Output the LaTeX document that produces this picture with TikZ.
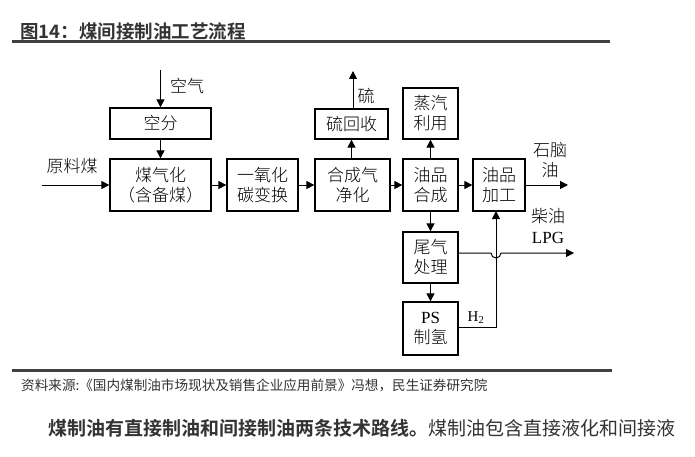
\documentclass[tikz,border=0pt]{standalone}
\usepackage{fontspec}
\setmainfont{Liberation Serif}
\newfontfamily\cjk{Noto Sans CJK SC}
\newfontfamily\cjkl{Noto Sans CJK SC}[UprightFont=* Light]
\newfontfamily\cjkb{Noto Sans CJK SC}[UprightFont=* Bold]
\usetikzlibrary{arrows.meta}
\begin{document}
\begin{tikzpicture}[x=1pt,y=-1pt,
  box/.style={draw,line width=1.3pt,inner sep=0pt,align=center,font=\cjkl\fontsize{17}{20}\selectfont},
  lbl/.style={font=\cjkl\fontsize{17}{20}\selectfont,inner sep=0pt,align=center},
  ar/.style={line width=1pt,-{Triangle[length=8pt,width=8pt]}},
  ln/.style={line width=1pt}]
\useasboundingbox (0,0) rectangle (695,457);
\fill[white] (0,0) rectangle (695,457);
\node[anchor=west,inner sep=0pt,font=\cjkb\fontsize{18.5}{21}\selectfont,text=black!80] (title) at (20,31) {图14：煤间接制油工艺流程};
\draw[line width=3pt,black!75] (12,42) -- (610,42);
\draw[line width=3pt,black!75] (12,370) -- (612,370);
\node[anchor=west,inner sep=0pt,font=\cjk\fontsize{13.6}{16}\selectfont,text=black!80] (src) at (21,385) {资料来源:《国内煤制油市场现状及销售企业应用前景》冯想，民生证券研究院};
\node[anchor=west,inner sep=0pt,font=\fontsize{19}{22}\selectfont,text=black!80] (para) at (48,428) {{\cjkb 煤制油有直接制油和间接制油两条技术路线。}{\cjk 煤制油包含直接液化和间接液}};

\node[box,minimum width=101pt,minimum height=31pt] (kf) at (160.5,123.5) {空分};
\node[box,minimum width=101pt,minimum height=52pt] (mq) at (160.5,185) {煤气化\\（含备煤）};
\node[box,minimum width=71pt,minimum height=52pt] (yy) at (262.5,185) {一氧化\\碳变换};
\node[box,minimum width=75pt,minimum height=52pt] (hc) at (352.5,185) {合成气\\净化};
\node[box,minimum width=73pt,minimum height=30pt] (lh) at (351.5,124) {硫回收};
\node[box,minimum width=55pt,minimum height=51pt] (zq) at (430.5,113.5) {蒸汽\\利用};
\node[box,minimum width=55pt,minimum height=52pt] (yp) at (430.5,185) {油品\\合成};
\node[box,minimum width=52pt,minimum height=52pt] (jg) at (499,185) {油品\\加工};
\node[box,minimum width=55pt,minimum height=51pt] (wq) at (430.5,257.5) {尾气\\处理};
\node[box,minimum width=55pt,minimum height=53pt] (ps) at (430.5,328.5) {{\rmfamily PS}\\制氢};

\coordinate (kq) at (160.5,70);
\coordinate (ymc) at (42,185);
\coordinate (s) at (353,71);
\coordinate (sn) at (568,185);
\coordinate (lpg) at (574,253);

\node[lbl] (kql) at (187,86) {空气};
\node[lbl] (yml) at (72,166) {原料煤};
\node[lbl] (sl) at (366,96) {硫};
\node[lbl] (snl) at (550,160) {石脑\\油};
\node[lbl] (cy) at (548,216) {柴油};
\node[font=\fontsize{17}{20}\selectfont,inner sep=0pt] (lpgl) at (548,238) {LPG};
\node[font=\fontsize{15}{18}\selectfont,inner sep=0pt] (h2) at (476,318) {H\textsubscript{2}};

\draw[ar] (kq) -- (kf.north);
\draw[ar] (kf.south) -- (mq.north);
\draw[ar] (ymc) -- (mq.west);
\draw[ar] (mq.east) -- (yy.west);
\draw[ar] (yy.east) -- (hc.west);
\draw[ar] (hc.east) -- (yp.west);
\draw[ar] (yp.east) -- (jg.west);
\draw[ar] (hc.north -| lh.south) -- (lh.south);
\draw[ar] (lh.north -| s) -- (s);
\draw[ar] (yp.north) -- (zq.south);
\draw[ar] (yp.south) -- (wq.north);
\draw[ar] (wq.south) -- (ps.north);
\draw[ar] (jg.east) -- (sn);
\draw[ar] (ps.east |- 0,327) -- (496,327) -- (496,211);
\draw[ar] (wq.east |- 0,253) -- (491,253) arc[start angle=180,end angle=0,radius=5] -- (lpg);
\end{tikzpicture}
\end{document}
